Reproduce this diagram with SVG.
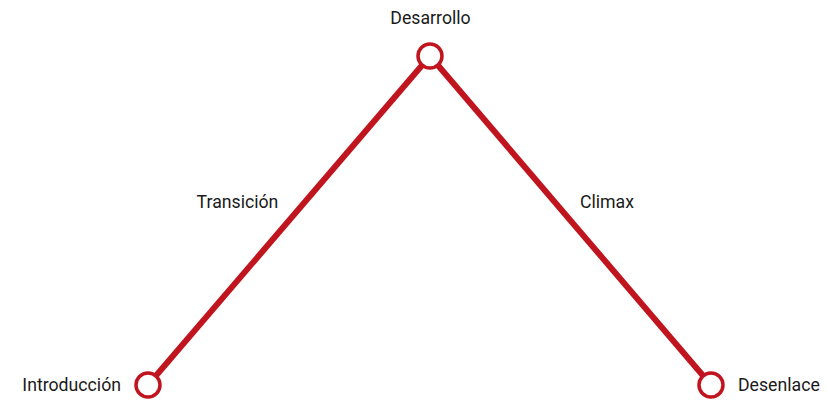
<svg xmlns="http://www.w3.org/2000/svg" width="827" height="401" viewBox="0 0 827 401">
<style>
.lbl{font-family:Roboto,"Liberation Sans",sans-serif;font-size:17.7px;fill:#1a1a1a}
.edge{stroke:#c0141f;stroke-width:6;stroke-linecap:butt;fill:none}
.node{fill:#fff;stroke:#c0141f;stroke-width:3.5}
</style>
<rect width="827" height="401" fill="#fff"/>
<g id="connectors">
<line class="edge" x1="148" y1="385" x2="430" y2="56"/>
<line class="edge" x1="430" y1="56" x2="711" y2="385"/>
<text class="lbl" x="237.5" y="208" text-anchor="middle">Transición</text>
<text class="lbl" x="607" y="208" text-anchor="middle">Climax</text>
</g>
<g id="desarrollo">
<circle class="node" cx="430" cy="56" r="12"/>
<text class="lbl" x="430.5" y="24" text-anchor="middle">Desarrollo</text>
</g>
<g id="introduccion">
<circle class="node" cx="148" cy="385" r="12"/>
<text class="lbl" x="121" y="391" text-anchor="end">Introducción</text>
</g>
<g id="desenlace">
<circle class="node" cx="711" cy="385" r="12"/>
<text class="lbl" x="738" y="391">Desenlace</text>
</g>
</svg>
